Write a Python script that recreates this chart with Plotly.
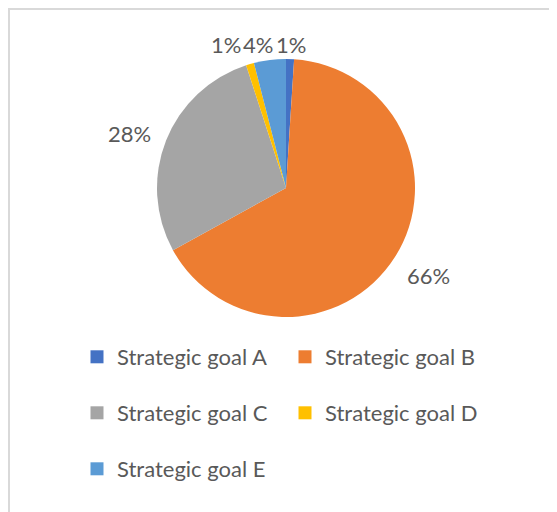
import plotly.graph_objects as go

categories = ["Strategic goal A", "Strategic goal B", "Strategic goal C",
              "Strategic goal D", "Strategic goal E"]
values = [1, 66, 28, 1, 4]
colors = ["#4472C4", "#ED7D31", "#A5A5A5", "#FFC000", "#5B9BD5"]
legend_rows = ["legend", "legend", "legend2", "legend2", "legend3"]

W, H = 557, 512
OFF = 8  # page body margin of the browser
FONT = "Lato"
TXT = "#595959"
FS = 22

total = sum(values)
pct_text = [f"{v / total:.0%}" for v in values]
# data-label anchor positions (window pixels, Excel-style outside-end layout)
label_px = [(291, 44), (428, 275), (129.5, 133.5), (226, 44), (258, 44)]


def px_x(x):
    return (x - OFF) / W


def px_y(y):
    return 1 - (y - OFF) / H


cx, cy, r = 286, 188, 129
fig = go.Figure()
fig.add_trace(go.Pie(
    labels=categories, values=values, sort=False, direction="clockwise",
    rotation=0,
    marker=dict(colors=colors, line=dict(width=0)),
    textinfo="none",
    showlegend=False, hoverinfo="label+percent",
    domain=dict(x=[px_x(cx - 1.3 * r), px_x(cx + 1.3 * r)],
                y=[px_y(cy + r), px_y(cy - r)]),
))

for cat, col, lg in zip(categories, colors, legend_rows):
    fig.add_trace(go.Scatter(
        x=[None], y=[None], mode="markers", name=cat, legend=lg,
        marker=dict(symbol="square", size=13, color=col),
        showlegend=True,
    ))

annotations = [
    dict(text=t, x=px_x(px), y=px_y(py), xref="paper", yref="paper",
         xanchor="center", yanchor="middle", showarrow=False,
         font=dict(family=FONT, size=FS, color=TXT))
    for t, (px, py) in zip(pct_text, label_px)
]

leg_common = dict(orientation="h", xanchor="left", yanchor="middle",
                  font=dict(family=FONT, size=FS, color=TXT),
                  bgcolor="rgba(0,0,0,0)", entrywidth=163, itemwidth=30,
                  traceorder="normal")
row_y = [349, 405, 461]
fig.update_layout(
    width=W, height=H,
    margin=dict(l=0, r=0, t=0, b=0, autoexpand=False),
    paper_bgcolor="white", plot_bgcolor="white",
    xaxis=dict(visible=False), yaxis=dict(visible=False),
    legend=dict(x=69 / W, y=1 - row_y[0] / H, **leg_common),
    legend2=dict(x=69 / W, y=1 - row_y[1] / H, **leg_common),
    legend3=dict(x=69 / W, y=1 - row_y[2] / H, **leg_common),
    annotations=annotations,
    shapes=[dict(type="rect", xref="paper", yref="paper",
                 x0=1 / W, x1=1.05, y0=-0.05, y1=1 - 1 / H,
                 line=dict(color="#D9D9D9", width=2), fillcolor="rgba(0,0,0,0)",
                 layer="below")],
)

fig.write_html("out.html")
